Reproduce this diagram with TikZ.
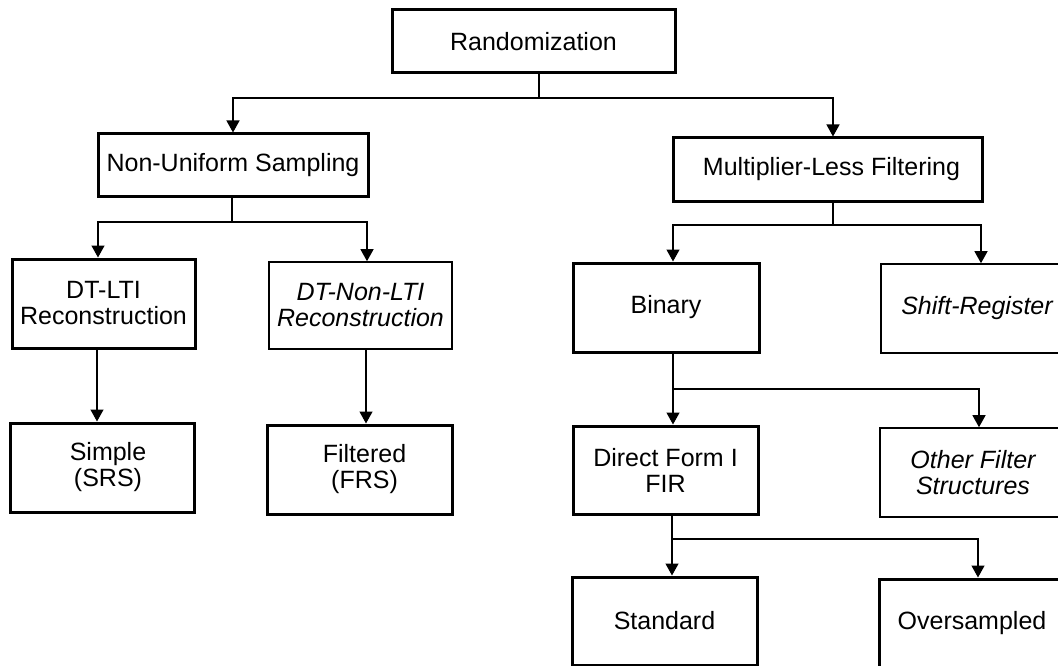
\documentclass[tikz,border=0pt]{standalone}
\usepackage{fontspec}
\setmainfont{Liberation Sans}
\usetikzlibrary{arrows.meta}
\begin{document}
\begin{tikzpicture}[x=1pt,y=-1pt,
  thickbox/.style={draw=black,line width=3pt,rectangle,inner sep=0pt,align=center,font=\fontsize{25}{26}\selectfont},
  thinbox/.style={draw=black,line width=1.6pt,rectangle,inner sep=0pt,align=center,font=\fontsize{25}{26}\selectfont\itshape},
  wire/.style={draw=black,line width=1.3pt},
  arr/.style={wire,-{Triangle[length=12pt,width=13pt]}}]
\useasboundingbox (0,0) rectangle (1058,666);
\clip (0,0) rectangle (1058,666);
% nodes
\node[thickbox,minimum width=283pt,minimum height=63pt] (rand) at (533.5,41.5) {Randomization};
\node[thickbox,minimum width=270pt,minimum height=62pt] (nus) at (233,165) {Non-Uniform Sampling};
\node[thickbox,minimum width=309pt,minimum height=63pt] (mlf) at (827.5,169.5) {\hspace*{8pt}Multiplier-Less Filtering};
\node[thickbox,minimum width=183pt,minimum height=89pt] (dtlti) at (103.5,303.5) {DT-LTI\\Reconstruction};
\node[thinbox,minimum width=183pt,minimum height=87pt] (dtnlti) at (360.5,305.5) {DT-Non-LTI\\Reconstruction};
\node[thickbox,minimum width=184pt,minimum height=89pt] (simple) at (102,467.5) {\hspace*{12pt}Simple\\\hspace*{12pt}(SRS)};
\node[thickbox,minimum width=185pt,minimum height=89pt] (filt) at (359.5,469.5) {\hspace*{10pt}Filtered\\\hspace*{10pt}(FRS)};
\node[thickbox,minimum width=186pt,minimum height=89pt] (bin) at (666,307.5) {Binary};
\node[thinbox,minimum width=186pt,minimum height=89pt] (shift) at (974,308.5) {\hspace*{6pt}Shift-Register};
\node[thickbox,minimum width=185pt,minimum height=88pt] (dir) at (665.5,470) {Direct Form I\\FIR};
\node[thinbox,minimum width=186pt,minimum height=89pt] (other) at (973,472.5) {Other Filter\\Structures};
\node[thickbox,minimum width=185pt,minimum height=88pt] (std) at (664.5,621) {Standard};
\node[thickbox,minimum width=186pt,minimum height=88pt] (over) at (972,623) {Oversampled};
% branch points
\coordinate (j0) at (539,98);
\coordinate (j1) at (232,222);
\coordinate (j2) at (833,225);
\coordinate (j3) at (673,389);
\coordinate (j4) at (672,539);
% connectors
\draw[wire] (539,0 |- rand.south) -- (j0);
\draw[arr] (j0) -| (233,0 |- nus.north);
\draw[arr] (j0) -| (833,0 |- mlf.north);
\draw[wire] (232,0 |- nus.south) -- (j1);
\draw[arr] (j1) -| (98,0 |- dtlti.north);
\draw[arr] (j1) -| (367,0 |- dtnlti.north);
\draw[wire] (833,0 |- mlf.south) -- (j2);
\draw[arr] (j2) -| (673,0 |- bin.north);
\draw[arr] (j2) -| (981,0 |- shift.north);
\draw[arr] (97,0 |- dtlti.south) -- (97,0 |- simple.north);
\draw[arr] (366,0 |- dtnlti.south) -- (366,0 |- filt.north);
\draw[wire] (673,0 |- bin.south) -- (j3);
\draw[arr] (j3) -- (673,0 |- dir.north);
\draw[arr] (j3) -| (979,0 |- other.north);
\draw[wire] (672,0 |- dir.south) -- (j4);
\draw[arr] (j4) -- (672,0 |- std.north);
\draw[arr] (j4) -| (978,0 |- over.north);
\end{tikzpicture}
\end{document}
